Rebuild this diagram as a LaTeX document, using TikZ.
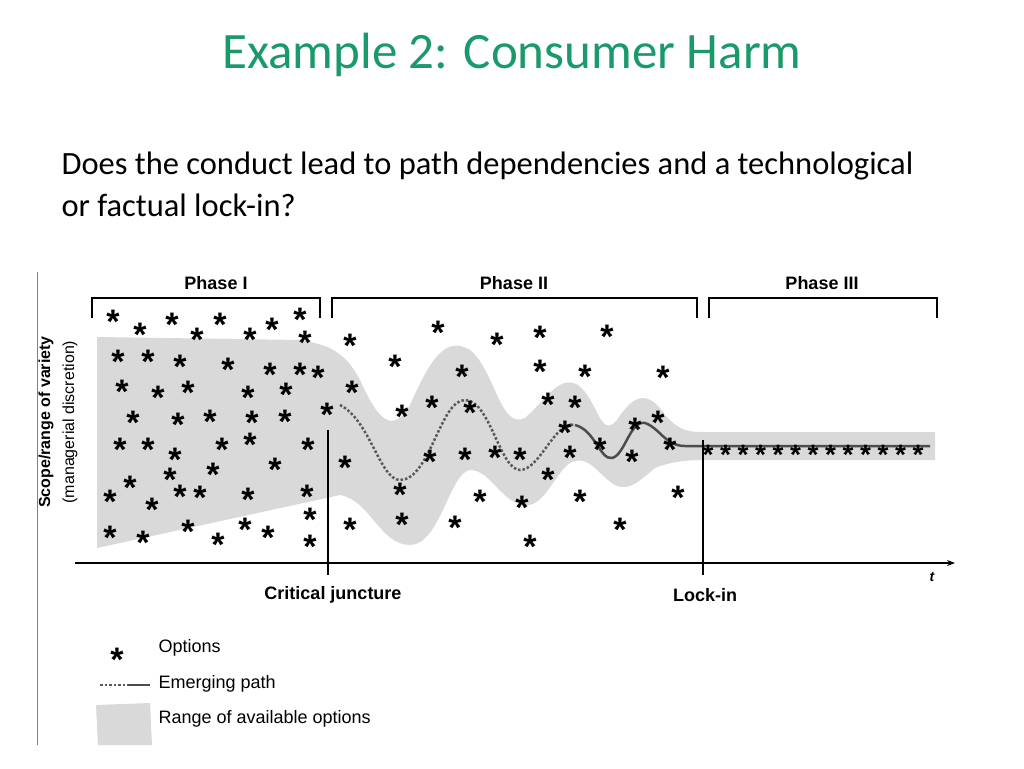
\documentclass[tikz,border=0pt]{standalone}
\usepackage{fontspec}
\setmainfont{Carlito}
\newfontfamily\figfont{Liberation Sans}
\usetikzlibrary{arrows.meta}
\definecolor{titlegreen}{HTML}{1A9A6A}
\tikzset{
  opt/.style={inner sep=0pt,font=\figfont\bfseries\fontsize{34}{34}\selectfont},
  figlabel/.style={font=\figfont\bfseries\fontsize{18}{20}\selectfont},
  legtext/.style={anchor=west,font=\figfont\fontsize{18}{20}\selectfont},
  bracketline/.style={line width=1.3pt}
}
\begin{document}
\begin{tikzpicture}[x=1pt,y=-1pt]
\useasboundingbox (0,0) rectangle (1024,768);
\node (title) [font=\fontsize{51}{56}\selectfont,text=titlegreen] at (512,55) {Example 2: Consumer Harm};
\node (quest) [font=\fontsize{32.5}{42}\selectfont,align=left,anchor=north west] at (58,148)
  {Does the conduct lead to path dependencies and a technological\\ or factual lock-in?};
% range of options
\fill[gray!30] (97,337) -- (300,340) .. controls (330,345) and (345,352) .. (360,380)
  .. controls (378,420) and (392,435) .. (410,405) .. controls (430,360) and (445,335) .. (470,350)
  .. controls (495,370) and (500,430) .. (525,418) .. controls (550,395) and (560,375) .. (578,385)
  .. controls (598,400) and (600,440) .. (617,420) .. controls (630,400) and (645,385) .. (665,415)
  .. controls (680,432) and (690,432) .. (705,432) -- (935,432) -- (935,460) -- (705,460)
  .. controls (685,460) and (670,462) .. (655,468) .. controls (640,480) and (630,492) .. (615,485)
  .. controls (598,475) and (590,455) .. (572,462) .. controls (555,470) and (545,510) .. (522,505)
  .. controls (500,500) and (490,470) .. (470,470) .. controls (450,472) and (440,545) .. (410,545)
  .. controls (380,545) and (370,500) .. (340,495) -- (97,548) -- cycle;
% emerging path
\draw[gray!70!black,line width=2.5pt,dotted] (340,405) .. controls (370,420) and (380,480) .. (400,480)
  .. controls (430,480) and (440,400) .. (465,400) .. controls (490,400) and (500,470) .. (520,470)
  .. controls (540,470) and (555,420) .. (575,425);
\draw[gray!60!black,line width=2.5pt] (575,425) .. controls (595,430) and (600,460) .. (612,458)
  .. controls (625,455) and (630,420) .. (645,423) .. controls (660,428) and (665,446) .. (685,446) -- (930,446);
% options
\foreach \px/\py in {113/312,140/325,172/315,197/330,220/315,250/330,272/320,300/310,305/333,
  118/352,148/352,180/357,228/360,270/365,300/365,318/368,122/382,158/388,188/383,248/388,286/385,
  352/383,133/413,178/415,210/412,252/413,285/412,327/405,120/440,148/440,175/450,222/440,250/435,
  308/440,130/478,170/470,213/465,275/460,110/492,152/500,180/487,200/488,248/490,307/487,110/528,
  143/533,188/522,218/535,245/520,268/528,310/510,310/537,350/336,395/357,438/323,497/335,540/328,
  607/327,462/367,540/362,585/367,663/368,402/407,432/398,470/403,548/395,575/398,658/413,345/458,
  430/452,465/450,495/448,520/450,548/470,570/448,600/440,632/452,635/420,400/485,480/492,522/498,
  580/492,678/488,350/520,402/515,455/518,530/537,620/520,565/423,670/440}
  \node[opt] at (\px,\py+10) {*};
\foreach \k in {0,...,12}
  \node[opt,font=\figfont\bfseries\fontsize{28}{28}\selectfont] at (708+17.5*\k,455) {*};
% axes
\draw[gray,thin] (37,272) -- (37,745);
\draw[line width=1.3pt,-{Stealth[length=8pt]}] (75,563) -- (955,563);
\node (t) [font=\figfont\itshape\bfseries\fontsize{14}{14}\selectfont] at (932,577) {t};
\draw[line width=1.2pt] (328,430) -- (328,575);
\draw[line width=1.2pt] (703,440) -- (703,575);
\node (crit) [figlabel] at (333,595) {Critical juncture};
\node (lock) [figlabel] at (705,595) {Lock-in};
\node (ylab) [figlabel,font=\figfont\bfseries\fontsize{16}{18}\selectfont,rotate=90] at (46,422) {Scope/range of variety};
\node (ylab2) [font=\figfont\fontsize{16}{18}\selectfont,rotate=90] at (70,422) {(managerial discretion)};
% phases
\draw[bracketline] (92,318) -- (92,298) -- (320,298) -- (320,318);
\draw[bracketline] (332,318) -- (332,298) -- (697,298) -- (697,318);
\draw[bracketline] (709,318) -- (709,298) -- (937,298) -- (937,318);
\node (ph1) [figlabel] at (216,283) {Phase I};
\node (ph2) [figlabel] at (514,283) {Phase II};
\node (ph3) [figlabel] at (822,283) {Phase III};
% legend
\node (legopt) [opt] at (117,660) {*};
\node (legopttxt) [legtext] at (155,648) {Options};
\draw[gray!70!black,line width=2.5pt,dotted] (100,685) -- (128,685);
\draw[gray!60!black,line width=2.5pt] (128,685) -- (150,685);
\node (legpath) [legtext] at (155,684) {Emerging path};
\fill[gray!30] (96,705) -- (150,703) -- (152,745) -- (98,745) -- cycle;
\node (legrange) [legtext] at (155,719) {Range of available options};
\end{tikzpicture}
\end{document}
